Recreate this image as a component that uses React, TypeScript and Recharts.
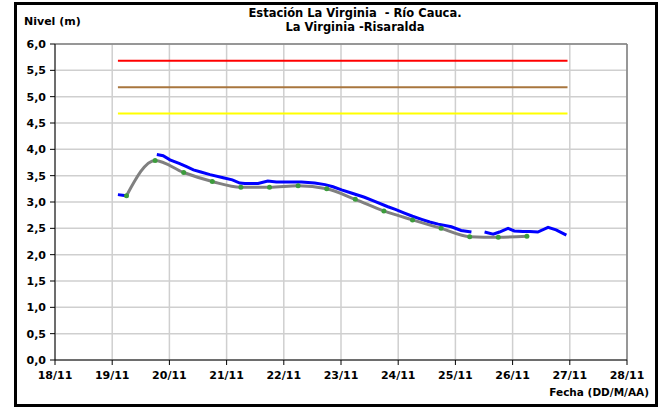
import React from "react";
import { LineChart, Line, XAxis, YAxis, CartesianGrid, ReferenceLine } from "recharts";

// days counted from 18/11 00:00
const dayTicks = [0, 1, 2, 3, 4, 5, 6, 7, 8, 9, 10];
const dayLabels = ["18/11", "19/11", "20/11", "21/11", "22/11", "23/11", "24/11", "25/11", "26/11", "27/11", "28/11"];
const levelTicks = [0, 0.5, 1, 1.5, 2, 2.5, 3, 3.5, 4, 4.5, 5, 5.5, 6];

// observed level (blue), null = no data
const blueDays = [1.1, 1.18, 1.25, 1.5, 1.78, 1.89, 2.01, 2.18, 2.3, 2.42, 2.55, 2.71, 2.94, 3.1, 3.23, 3.32, 3.55, 3.72, 3.87, 4.02, 4.31, 4.54, 4.72, 4.86, 5.01, 5.18, 5.41, 5.59, 5.82, 5.95, 6.11, 6.25, 6.41, 6.55, 6.7, 6.93, 7.1, 7.28, 7.4, 7.51, 7.66, 7.77, 7.92, 8.03, 8.18, 8.3, 8.44, 8.62, 8.76, 8.94];
const blueLevel = [3.14, 3.13, 3.12, null, 3.9, 3.88, 3.8, 3.73, 3.67, 3.61, 3.57, 3.52, 3.46, 3.42, 3.36, 3.35, 3.35, 3.4, 3.38, 3.38, 3.38, 3.36, 3.33, 3.29, 3.23, 3.17, 3.09, 3.01, 2.91, 2.86, 2.79, 2.73, 2.67, 2.62, 2.58, 2.53, 2.46, 2.43, null, 2.43, 2.39, 2.43, 2.5, 2.45, 2.44, 2.44, 2.43, 2.52, 2.47, 2.37];

// smoothed level with 12 h markers (gray / green)
const grayDays = [1.25, 1.75, 2.25, 2.75, 3.25, 3.75, 4.25, 4.75, 5.25, 5.75, 6.25, 6.75, 7.25, 7.75, 8.25];
const grayLevel = [3.12, 3.79, 3.56, 3.39, 3.28, 3.28, 3.31, 3.25, 3.05, 2.83, 2.66, 2.5, 2.34, 2.33, 2.35];

// alert levels
const alertStart = 1.1;
const alertEnd = 8.96;
const redLevel = 5.68;
const brownLevel = 5.18;
const yellowLevel = 4.68;

const blueData = blueDays.map((d, i) => ({ d, v: blueLevel[i] }));
const grayData = grayDays.map((d, i) => ({ d, v: grayLevel[i] }));
const flat = (v: number) => [{ d: alertStart, v }, { d: alertEnd, v }];

const font = "'DejaVu Sans', Arial, sans-serif";
const tickStyle = { fontSize: 11, fontWeight: "bold", fill: "#000", fontFamily: font };

export default function App() {
  return (
    <div style={{ position: "absolute", left: 0, top: 0, width: 659, height: 409, background: "#fff", fontFamily: font }}>
      <div
        style={{
          position: "absolute",
          left: 14,
          top: 2,
          width: 638,
          height: 399,
          border: "3px solid #000",
        }}
      />
      <LineChart
        width={659}
        height={409}
        margin={{ top: 44, right: 32, left: 15, bottom: 19 }}
        style={{ position: "absolute", left: 0, top: 0 }}
      >
        <CartesianGrid stroke="#cfcfcf" strokeWidth={1.5} />
        <XAxis
          dataKey="d"
          type="number"
          domain={[0, 10]}
          ticks={dayTicks}
          tickFormatter={(v: number) => dayLabels[v]}
          tick={tickStyle}
          tickSize={5}
          tickMargin={6}
          height={30}
          stroke="#000"
          allowDuplicatedCategory={false}
        />
        <YAxis
          type="number"
          domain={[0, 6]}
          ticks={levelTicks}
          tickFormatter={(v: number) => v.toFixed(1).replace(".", ",")}
          tick={tickStyle}
          tickSize={5}
          tickMargin={4}
          width={40}
          stroke="#000"
        />
        <ReferenceLine y={6} stroke="#808080" strokeWidth={1.5} />
        <ReferenceLine x={10} stroke="#808080" strokeWidth={1.5} />
        <Line data={flat(redLevel)} dataKey="v" stroke="#ff0000" strokeWidth={2} dot={false} isAnimationActive={false} />
        <Line data={flat(brownLevel)} dataKey="v" stroke="#a8763e" strokeWidth={2} dot={false} isAnimationActive={false} />
        <Line data={flat(yellowLevel)} dataKey="v" stroke="#ffff00" strokeWidth={2} dot={false} isAnimationActive={false} />
        <Line data={blueData} dataKey="v" type="linear" stroke="#0000ff" strokeWidth={3} dot={false} connectNulls={false} isAnimationActive={false} />
        <Line
          data={grayData}
          dataKey="v"
          type="monotone"
          stroke="#808080"
          strokeWidth={3}
          dot={{ r: 2.5, fill: "#3c9c3c", stroke: "none" }}
          isAnimationActive={false}
        />
      </LineChart>
      <div style={{ position: "absolute", left: 24, top: 15, fontSize: 11, fontWeight: "bold" }}>Nivel (m)</div>
      <div style={{ position: "absolute", left: 200, width: 310, top: 6, fontSize: 11.5, fontWeight: "bold", textAlign: "center", lineHeight: "14px" }}>
        Estación La Virginia&nbsp; - Río Cauca.
        <br />
        La Virginia -Risaralda
      </div>
      <div style={{ position: "absolute", right: 10, top: 386, fontSize: 10.5, fontWeight: "bold" }}>Fecha (DD/M/AA)</div>
    </div>
  );
}
